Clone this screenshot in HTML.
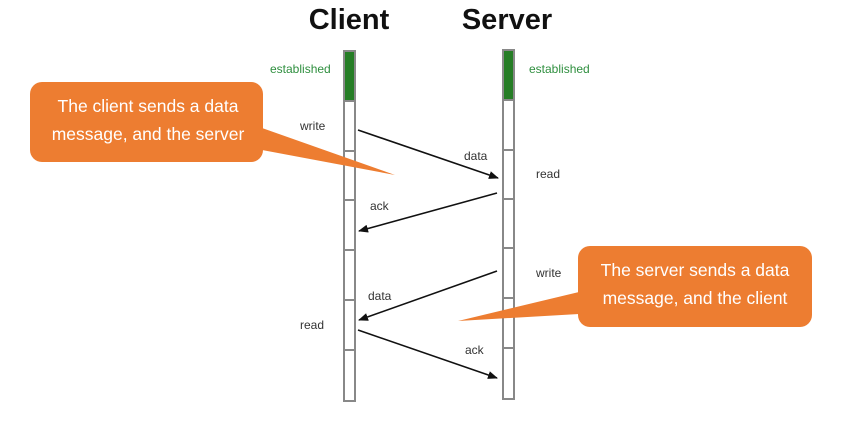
<!DOCTYPE html>
<html><head><meta charset="utf-8"><style>
html,body{margin:0;padding:0;background:#fff;}
svg{display:block;}
</style></head><body>
<svg width="844" height="423" xmlns="http://www.w3.org/2000/svg" font-family="Liberation Sans, sans-serif">
<defs>
<marker id="ah" markerWidth="10" markerHeight="8" refX="9" refY="4" orient="auto" markerUnits="userSpaceOnUse">
<path d="M0,0 L10,4 L0,8 Z" fill="#111"/>
</marker>
</defs>
<text x="349" y="29" font-size="29" font-weight="bold" text-anchor="middle" fill="#111">Client</text>
<text x="507" y="29" font-size="29" font-weight="bold" text-anchor="middle" fill="#111">Server</text>
<g stroke="#888" stroke-width="2" fill="#fff">
<rect x="344" y="51" width="11" height="50" fill="#257d25"/>
<rect x="344" y="101" width="11" height="50"/>
<rect x="344" y="151" width="11" height="49"/>
<rect x="344" y="200" width="11" height="50"/>
<rect x="344" y="250" width="11" height="50"/>
<rect x="344" y="300" width="11" height="50"/>
<rect x="344" y="350" width="11" height="51"/>
<rect x="503" y="50" width="11" height="50" fill="#257d25"/>
<rect x="503" y="100" width="11" height="50"/>
<rect x="503" y="150" width="11" height="49"/>
<rect x="503" y="199" width="11" height="49"/>
<rect x="503" y="248" width="11" height="50"/>
<rect x="503" y="298" width="11" height="50"/>
<rect x="503" y="348" width="11" height="51"/>
</g>
<g font-size="12" fill="#2f8f3f">
<text x="270" y="73">established</text>
<text x="529" y="73">established</text>
</g>
<g font-size="12" fill="#333">
<text x="300" y="130">write</text>
<text x="464" y="160">data</text>
<text x="536" y="178">read</text>
<text x="370" y="210">ack</text>
<text x="536" y="277">write</text>
<text x="368" y="300">data</text>
<text x="300" y="329">read</text>
<text x="465" y="354">ack</text>
</g>
<g stroke="#111" stroke-width="1.6" marker-end="url(#ah)">
<line x1="358" y1="130" x2="498" y2="178"/>
<line x1="497" y1="193" x2="359" y2="231"/>
<line x1="497" y1="271" x2="359" y2="320"/>
<line x1="358" y1="330" x2="497" y2="378"/>
</g>
<g fill="#ed7d31">
<rect x="30" y="82" width="233" height="80" rx="12"/>
<polygon points="262,128 262,150 395,175"/>
<rect x="578" y="246" width="234" height="81" rx="12"/>
<polygon points="579,292 579,314 458,321"/>
</g>
<g font-size="17.5" fill="#fff" text-anchor="middle" font-family="Liberation Sans, Noto Sans CJK SC, sans-serif">
<text x="148" y="112">The client sends a data</text>
<text x="148" y="140">message, and the server</text>
<text x="695" y="276">The server sends a data</text>
<text x="695" y="304">message, and the client</text>
</g>
</svg>
</body></html>
